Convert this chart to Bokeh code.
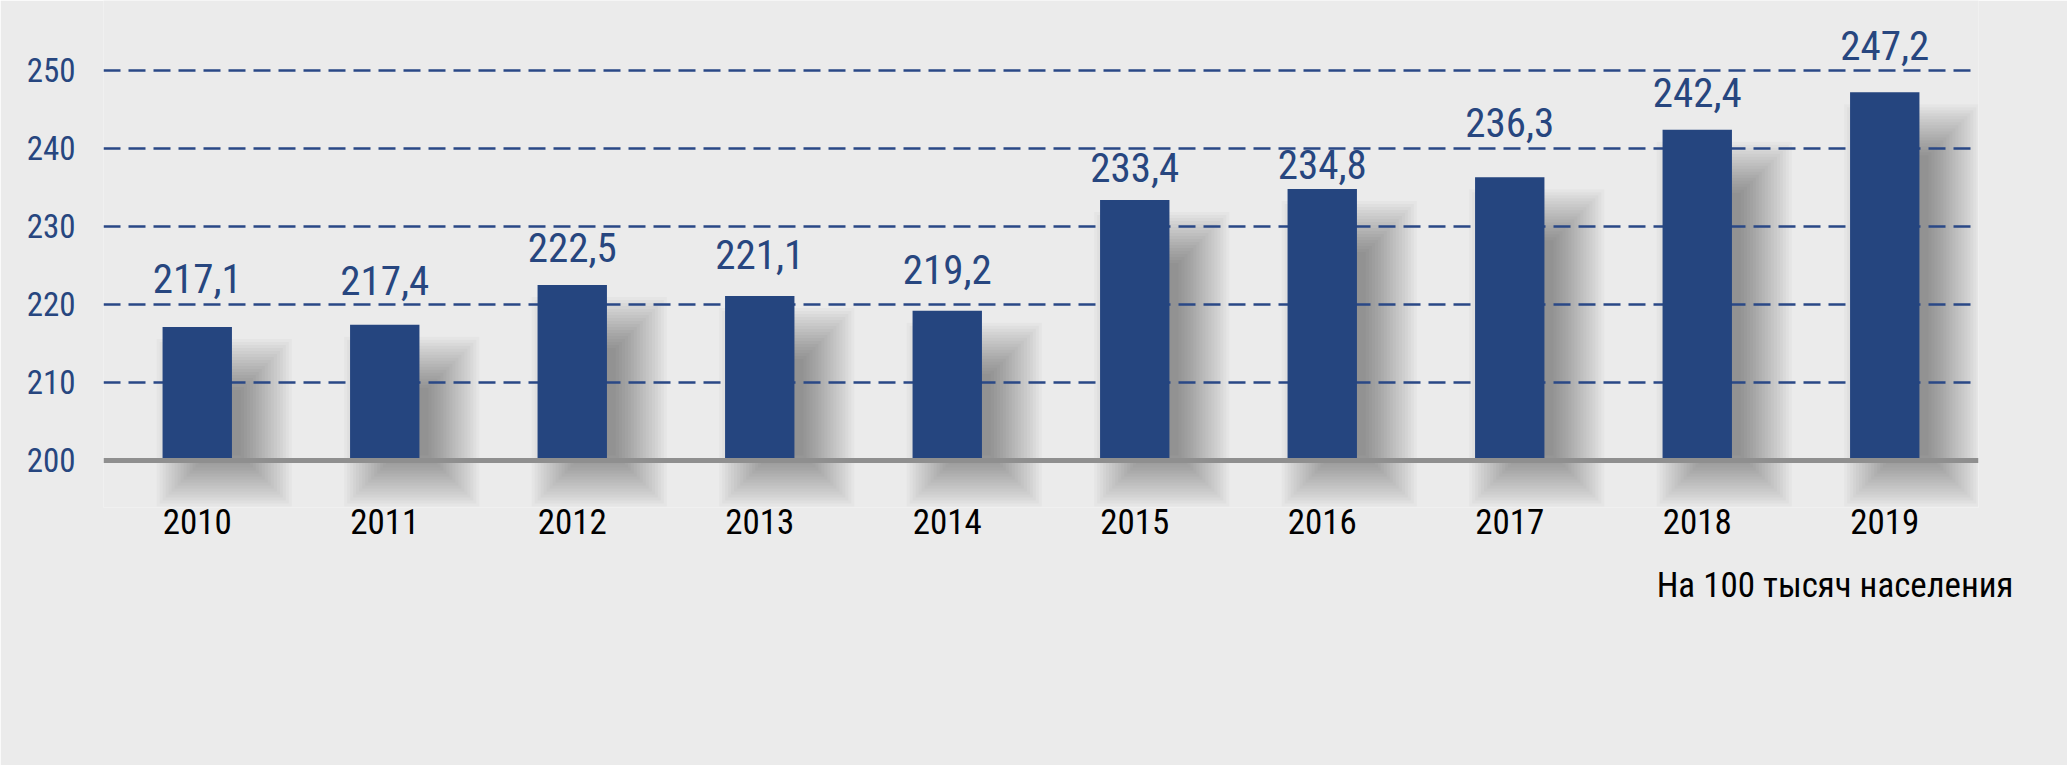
from bokeh.plotting import figure
from bokeh.models import FactorRange, Range1d, FixedTicker, Span, Title, ColumnDataSource
from bokeh.transform import dodge
from bokeh.core.properties import value
from bokeh.embed import file_html
from bokeh.resources import INLINE

# ---- data ----
years = ["2010", "2011", "2012", "2013", "2014", "2015", "2016", "2017", "2018", "2019"]
rates = [217.1, 217.4, 222.5, 221.1, 219.2, 233.4, 234.8, 236.3, 242.4, 247.2]
rate_labels = ["217,1", "217,4", "222,5", "221,1", "219,2", "233,4", "234,8", "236,3", "242,4", "247,2"]
y_ticks = [200, 210, 220, 230, 240, 250]
grid_ticks = [210, 220, 230, 240, 250]
note = "На 100 тысяч населения"

# ---- style ----
label_gap_px = [34, 29, 22, 26, 26, 17, 10, 40, 22, 32]   # space between bar top and its label

FONT = "Roboto Condensed, DejaVu Sans Condensed, sans-serif"
BG = "#ebebeb"
BLUE = "#25457f"
TXT_BLUE = "#27467f"

PX_CAT = 1 / 187.5   # one pixel in category units
PX_VAL = 1 / 7.8     # one pixel in value units
BAR_W = 0.37

p = figure(x_range=FactorRange(*years, range_padding=0), y_range=Range1d(193.97, 258.97),
           frame_width=1875, frame_height=507,
           min_border_left=103, min_border_right=89, min_border_top=0, min_border_bottom=258,
           output_backend="svg", toolbar_location=None, background_fill_color=BG,
           border_fill_color=BG, outline_line_color=None)

src = ColumnDataSource(dict(year=years, rate=rates, label=rate_labels,
                            yoff=[-(g + 15) for g in label_gap_px]))

# soft shadows (layered translucent rectangles)
N = 18
step = 3
for k in range(N):
    left_px = -6 + k * step
    right_px = 60 - k * step
    w = BAR_W + (right_px - left_px) * PX_CAT
    off = (left_px + right_px) / 2 * PX_CAT
    tops = [r - (12 + k * step) * PX_VAL for r in rates]
    bottom = 200 - (46 - k * step) * PX_VAL
    p.vbar(x=dodge("year", off, range=p.x_range), top="top", bottom=bottom, width=w,
           source=ColumnDataSource(dict(year=years, top=tops)),
           fill_color="black", fill_alpha=0.022, line_color=None, level="image")

p.vbar(x="year", top="rate", bottom=200, width=BAR_W, source=src,
       fill_color=BLUE, line_color=None)

p.text(x="year", y="rate", text="label", source=src, y_offset="yoff",
       text_align="center", text_baseline="alphabetic",
       text_font=value(FONT), text_font_size="41px", text_color=TXT_BLUE)

p.add_layout(Span(location=200, dimension="width", line_color="#8f8f8f", line_width=5))

# grid
p.xgrid.grid_line_color = None
p.ygrid.ticker = FixedTicker(ticks=grid_ticks)
p.ygrid.grid_line_color = "#2a4886"
p.ygrid.grid_line_width = 2.5
p.ygrid.grid_line_dash = "17 8"

# y axis
p.yaxis.ticker = FixedTicker(ticks=y_ticks)
p.yaxis.axis_line_color = None
p.yaxis.major_tick_line_color = None
p.yaxis.minor_tick_line_color = None
p.yaxis.major_label_standoff = 22
p.yaxis.major_label_text_font = FONT
p.yaxis.major_label_text_font_size = "33px"
p.yaxis.major_label_text_color = TXT_BLUE

# x axis
p.xaxis.axis_line_color = None
p.xaxis.major_tick_line_color = None
p.xaxis.minor_tick_line_color = None
p.xaxis.major_label_standoff = -5
p.xaxis.major_label_text_font = FONT
p.xaxis.major_label_text_font_size = "35px"
p.xaxis.major_label_text_color = "black"

p.add_layout(Title(text=note, align="right", offset=-35, standoff=52,
                   text_font=FONT, text_font_size="35px", text_font_style="normal",
                   text_color="black"), "below")

open("out.html", "w").write(file_html(p, INLINE))
